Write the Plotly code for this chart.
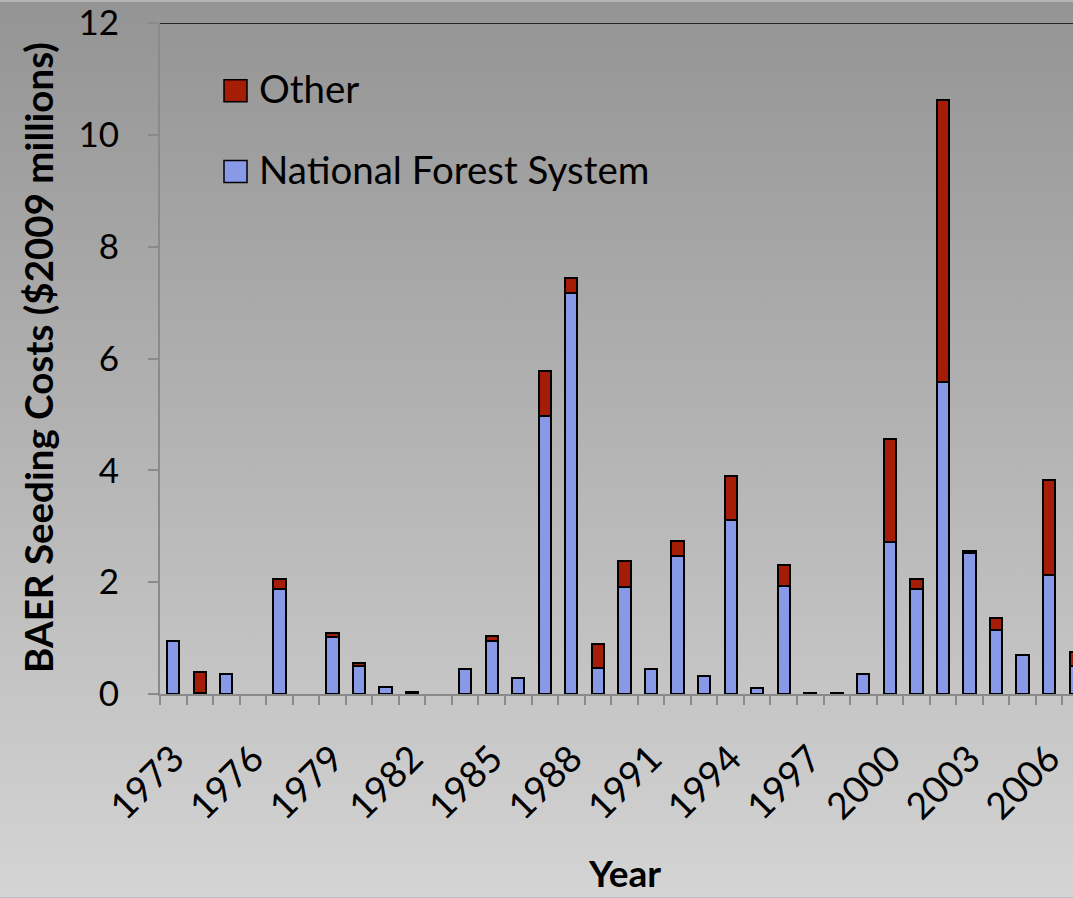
import plotly.graph_objects as go

# BAER seeding costs by year, $2009 millions
years = list(range(1973, 2008))
national_forest = [0.94, 0.02, 0.35, 0.0, 1.87, 0.0, 1.02, 0.50, 0.12, 0.03,
                   0.0, 0.44, 0.94, 0.28, 4.97, 7.17, 0.46, 1.91, 0.45, 2.46,
                   0.33, 3.12, 0.10, 1.94, 0.02, 0.01, 0.35, 2.71, 1.87, 5.58,
                   2.52, 1.15, 0.69, 2.13, 0.50]
other = [0.0, 0.37, 0.0, 0.0, 0.19, 0.0, 0.07, 0.06, 0.0, 0.0,
         0.0, 0.0, 0.10, 0.0, 0.80, 0.27, 0.44, 0.46, 0.0, 0.28,
         0.0, 0.77, 0.0, 0.37, 0.0, 0.0, 0.0, 1.85, 0.18, 5.05,
         0.04, 0.21, 0.0, 1.70, 0.26]
label_years = years[::3]

FONT = "Lato"
RED = "#A51C07"
BLUE = "#8899E8"
AXIS_GRAY = "#8a8a8a"

W, H = 1073, 898
L, R, T, B = 160, 0, 21, 204
PW, PH = W - L - R, H - T - B


def px_x(p):
    return (p - L) / PW


def px_y(p):
    return (H - B - p) / PH


def nonzero(values):
    # empty years get no bar at all (not even an outline)
    return [v if v > 0 else None for v in values]


fig = go.Figure()
fig.add_trace(go.Bar(x=years, y=nonzero(national_forest), name="National Forest System",
                     width=0.46, marker=dict(color=BLUE, line=dict(color="black", width=2)),
                     showlegend=False))
fig.add_trace(go.Bar(x=years, y=nonzero(other), name="Other",
                     width=0.46, marker=dict(color=RED, line=dict(color="black", width=2)),
                     showlegend=False))

# vertical gray gradient behind everything
svg = ("data:image/svg+xml;charset=utf-8,"
       "<svg xmlns='http://www.w3.org/2000/svg' width='10' height='100' preserveAspectRatio='none'>"
       "<defs><linearGradient id='g' x1='0' y1='0' x2='0' y2='1'>"
       "<stop offset='0' stop-color='%23949494'/>"
       "<stop offset='1' stop-color='%23d4d4d4'/>"
       "</linearGradient></defs><rect width='10' height='100' fill='url(%23g)'/></svg>")

shapes = [
    dict(type="line", xref="paper", yref="y", x0=0, x1=1, y0=12, y1=12,
         line=dict(color="black", width=1.5)),
]

legend_items = [("Other", RED, 89), ("National Forest System", BLUE, 170)]
annotations = []
for text, color, cy in legend_items:
    shapes.append(dict(type="rect", xref="paper", yref="paper",
                       x0=px_x(224), x1=px_x(247), y0=px_y(cy - 11), y1=px_y(cy + 11),
                       fillcolor=color, line=dict(color="black", width=1.5)))
    annotations.append(dict(text=text, xref="paper", yref="paper", x=px_x(257), y=px_y(cy - 3),
                            xanchor="left", yanchor="middle", showarrow=False,
                            font=dict(family=FONT, size=38.5, color="black")))

annotations.append(dict(text="<b>BAER Seeding Costs ($2009 millions)</b>", textangle=-90,
                        xref="paper", yref="paper", x=px_x(38), y=px_y(357),
                        xanchor="center", yanchor="middle", showarrow=False,
                        font=dict(family=FONT, size=38.5, color="black")))
annotations.append(dict(text="<b>Year</b>", xref="paper", yref="paper",
                        x=px_x(624), y=px_y(897), xanchor="center", yanchor="bottom",
                        borderpad=0, showarrow=False,
                        font=dict(family=FONT, size=37, color="black")))

fig.update_layout(
    width=W, height=H,
    margin=dict(l=L, r=R, t=T, b=B, pad=0),
    barmode="stack",
    paper_bgcolor="#b4b4b4",
    plot_bgcolor="rgba(0,0,0,0)",
    showlegend=False,
    shapes=shapes,
    annotations=annotations,
    images=[dict(source=svg, xref="paper", yref="paper", x=px_x(0), y=px_y(0),
                 sizex=W / PW, sizey=H / PH, sizing="stretch",
                 xanchor="left", yanchor="top", layer="below")],
    font=dict(family=FONT, color="black"),
)

fig.update_xaxes(
    range=[1972.5, 2006.9],
    tickmode="array", tickvals=label_years, ticktext=[str(y) for y in label_years],
    tickangle=-45, ticks="", ticklabelstandoff=26,
    tickfont=dict(family=FONT, size=37, color="black"),
    minor=dict(tickmode="array", tickvals=[y - 0.5 for y in years] + [years[-1] + 0.5],
               ticks="outside", ticklen=9, tickwidth=2, tickcolor=AXIS_GRAY),
    showline=True, linecolor=AXIS_GRAY, linewidth=2,
    showgrid=False, zeroline=False,
)
fig.update_yaxes(
    range=[0, 12.0005], tickmode="array", tickvals=list(range(0, 13, 2)),
    ticks="outside", ticklen=10, tickwidth=2, tickcolor=AXIS_GRAY,
    ticklabelstandoff=22, ticklabeloverflow="allow",
    tickfont=dict(family=FONT, size=35, color="black"),
    showline=True, linecolor=AXIS_GRAY, linewidth=2,
    showgrid=False, zeroline=False,
)

fig.write_html("out.html")
